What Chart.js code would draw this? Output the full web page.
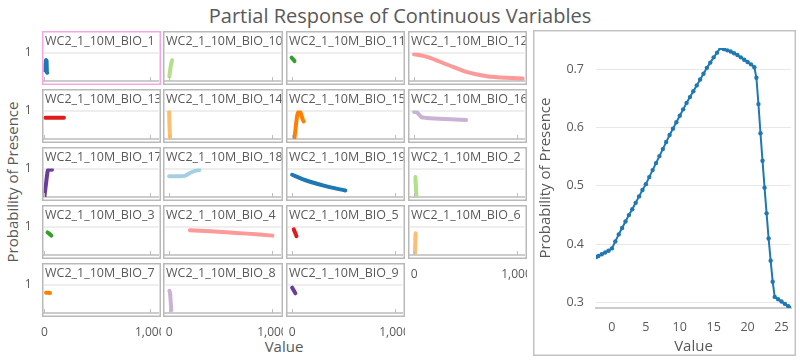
<!DOCTYPE html>
<html>
<head>
<meta charset="utf-8">
<script src="https://cdn.jsdelivr.net/npm/chart.js@4/dist/chart.umd.min.js"></script>
<style>
  body { margin: 0; background: #fff; font-family: "Open Sans", sans-serif; }
  #wrap { position: relative; width: 800px; height: 360px; overflow: hidden; }
  #wrap canvas { position: absolute; }
  .txt { position: absolute; color: #595959; white-space: nowrap; transform: translate(-50%, -50%); }
</style>
</head>
<body>
<div id="wrap">
  <div class="txt" style="left:400px; top:15px; font-size:20px;">Partial Response of Continuous Variables</div>
  <div class="txt" style="left:12px; top:182px; font-size:15px; transform: translate(-50%, -50%) rotate(-90deg);">Probability of Presence</div>
  <div class="txt" style="left:284px; top:346px; font-size:15px;">Value</div>
</div>
<script>
// Detail chart (BIO_1) values
const bigX = [-2.35, -2, -1.5, -1, -0.5, 0, 0.5, 1, 1.5, 2, 2.5, 3, 3.5, 4, 4.5, 5, 5.5, 6, 6.5, 7, 7.5, 8, 8.5, 9, 9.5, 10,
  10.5, 11, 11.5, 12, 12.5, 13, 13.5, 14, 14.5, 15, 15.5, 16, 16.5, 17, 17.5, 18, 18.5, 19, 19.5, 20, 20.5, 21,
  21.3, 21.6, 21.9, 22.2, 22.5, 22.8, 23.1, 23.4, 23.7, 24, 24.5, 25, 25.5, 26, 26.4];
const bigY = [0.378, 0.380, 0.383, 0.386, 0.389, 0.393, 0.405, 0.417, 0.428, 0.439, 0.450, 0.460, 0.471, 0.482, 0.493, 0.503,
  0.515, 0.527, 0.539, 0.551, 0.563, 0.575, 0.587, 0.598, 0.609, 0.620, 0.631, 0.642, 0.652, 0.662, 0.672, 0.682,
  0.692, 0.702, 0.711, 0.720, 0.728, 0.736, 0.734, 0.732, 0.730, 0.727, 0.724, 0.720, 0.716, 0.712, 0.708, 0.703,
  0.685, 0.640, 0.590, 0.543, 0.497, 0.453, 0.410, 0.372, 0.336, 0.310, 0.306, 0.302, 0.298, 0.294, 0.291];

// Small multiples: [value, probability]
const bio10 = [[2, 0.16], [10, 0.38], [18, 0.57], [28, 0.73]];
const bio11 = [[-5, 0.82], [8, 0.77], [23, 0.70]];
const bio12 = [[0, 0.94], [134, 0.84], [326, 0.57], [518, 0.31], [711, 0.17], [903, 0.11], [1063, 0.09]];
const bio13 = [[8, 0.75], [60, 0.75], [120, 0.75], [185, 0.75]];
const bio14 = [[0, 0.95], [1, 0.7], [4, 0.4], [8, 0.12], [10, 0.0]];
const bio15 = [[21, 0.0], [32, 0.3], [42, 0.62], [52, 0.86], [66, 0.96], [80, 0.94], [92, 0.82], [104, 0.68], [112, 0.62]];
const bio16 = [[0, 0.95], [25, 0.94], [50, 0.85], [70, 0.77], [120, 0.74], [300, 0.70], [508, 0.67]];
const bio17 = [[1, 0.03], [15, 0.45], [30, 0.88], [36, 0.95], [50, 0.96], [72, 0.96]];
const bio18 = [[0, 0.73], [80, 0.73], [150, 0.74], [200, 0.84], [250, 0.92], [292, 0.95]];
const bio19 = [[0, 0.78], [100, 0.63], [200, 0.51], [300, 0.41], [400, 0.32], [520, 0.23]];
const bio2 = [[13, 0.7], [16, 0.45], [20, 0.22], [23, 0.05]];
const bio3 = [[30, 0.79], [48, 0.74], [66, 0.68]];
const bio4 = [[200, 0.87], [400, 0.83], [550, 0.80], [750, 0.75], [1000, 0.68]];
const bio5 = [[16, 0.9], [30, 0.78], [43, 0.66]];
const bio6 = [[14, 0.76], [12, 0.5], [10, 0.25], [8, 0.0]];
const bio7 = [[16, 0.71], [35, 0.71], [53, 0.70]];
const bio8 = [[2, 0.78], [8, 0.72], [13, 0.5], [17, 0.3], [21, 0.1]];
const bio9 = [[0, 0.89], [15, 0.8], [32, 0.69]];
const bio1 = bigX.map((x, i) => [x, bigY[i]]);

const panelNames = ['WC2_1_10M_BIO_1', 'WC2_1_10M_BIO_10', 'WC2_1_10M_BIO_11', 'WC2_1_10M_BIO_12',
  'WC2_1_10M_BIO_13', 'WC2_1_10M_BIO_14', 'WC2_1_10M_BIO_15', 'WC2_1_10M_BIO_16',
  'WC2_1_10M_BIO_17', 'WC2_1_10M_BIO_18', 'WC2_1_10M_BIO_19', 'WC2_1_10M_BIO_2',
  'WC2_1_10M_BIO_3', 'WC2_1_10M_BIO_4', 'WC2_1_10M_BIO_5', 'WC2_1_10M_BIO_6',
  'WC2_1_10M_BIO_7', 'WC2_1_10M_BIO_8', 'WC2_1_10M_BIO_9'];
const panelSeries = [bio1, bio10, bio11, bio12, bio13, bio14, bio15, bio16, bio17, bio18, bio19,
  bio2, bio3, bio4, bio5, bio6, bio7, bio8, bio9];
const panelColors = ['#1f78b4', '#b2df8a', '#33a02c', '#fb9a99', '#e31a1c', '#fdbf6f', '#ff7f00', '#cab2d6', '#6a3d9a', '#a6cee3',
  '#1f78b4', '#b2df8a', '#33a02c', '#fb9a99', '#e31a1c', '#fdbf6f', '#ff7f00', '#cab2d6', '#6a3d9a'];
const smallXTicks = [0, 1000];
const smallYTicks = [1];

const FONT = '"Open Sans", sans-serif';
const TEXT = '#595959';
const wrap = document.getElementById('wrap');

// grid layout of the small panels
const boxLefts = [42, 163, 286, 408];
const boxRights = [161, 283, 405, 527];
const boxTops = [31, 89, 147, 205, 263];
const boxHeight = 54;
const xMins = [-8, -45, -45, -45];
const xMax = 1078;
const bottomRow = [4, 4, 4, 3];

// draws the frame, the inner tick marks and the name of each small panel
const panelBox = {
    id: 'panelBox',
    afterDraw(chart, args, opts) {
        const ctx = chart.ctx;
        const area = chart.chartArea;
        ctx.save();
        ctx.lineWidth = 1;
        ctx.strokeStyle = '#bdbdbd';
        smallXTicks.forEach(v => {
            const x = Math.round(chart.scales.x.getPixelForValue(v)) + 0.5;
            ctx.beginPath();
            ctx.moveTo(x, area.bottom - 4);
            ctx.lineTo(x, area.bottom);
            ctx.stroke();
        });
        ctx.lineWidth = 1.5;
        ctx.strokeStyle = opts.border;
        ctx.strokeRect(22.75, 0.75, opts.w - 1.5, boxHeight - 1.5);
        ctx.beginPath();
        ctx.rect(22, 0, opts.w - 1.5, boxHeight);
        ctx.clip();
        ctx.fillStyle = TEXT;
        ctx.font = '12.5px ' + FONT;
        ctx.fillText(opts.name, 25, 14);
        ctx.restore();
    }
};

function makeCanvas(left, top, w, h) {
    const cv = document.createElement('canvas');
    cv.width = w;
    cv.height = h;
    cv.style.left = left + 'px';
    cv.style.top = top + 'px';
    cv.style.width = w + 'px';
    cv.style.height = h + 'px';
    wrap.appendChild(cv);
    return cv;
}

panelNames.forEach((name, i) => {
    const col = i % 4, row = Math.floor(i / 4);
    const w = boxRights[col] - boxLefts[col];
    const cv = makeCanvas(boxLefts[col] - 22, boxTops[row], w + 22, boxHeight + 24);
    new Chart(cv, {
        type: 'line',
        data: {
            datasets: [{
                data: panelSeries[i].map(p => ({ x: p[0], y: p[1] })),
                borderColor: panelColors[i],
                borderWidth: 4,
                pointRadius: 0,
                tension: 0.3,
                borderCapStyle: 'round',
                borderJoinStyle: 'round'
            }]
        },
        options: {
            responsive: false,
            animation: false,
            events: [],
            layout: { padding: { top: 21.5, right: 2.5, left: 0, bottom: 0 } },
            plugins: {
                legend: { display: false },
                tooltip: { enabled: false },
                panelBox: { name: name, w: w, border: i === 0 ? '#f6a5e4' : '#b9b9b9' }
            },
            scales: {
                x: {
                    type: 'linear',
                    min: xMins[col],
                    max: xMax,
                    afterBuildTicks: s => { s.ticks = smallXTicks.map(v => ({ value: v })); },
                    afterFit: s => { s.height = 28; s.paddingLeft = 0; s.paddingRight = 0; },
                    grid: { display: false },
                    border: { color: '#cccccc', width: 2 },
                    ticks: { display: row === bottomRow[col], padding: 4, maxRotation: 0, autoSkip: false,
                             font: { size: 12, family: FONT }, color: TEXT }
                },
                y: {
                    min: 0,
                    max: 1,
                    afterBuildTicks: s => { s.ticks = smallYTicks.map(v => ({ value: v })); },
                    afterFit: s => { s.width = 23.5; s.paddingTop = 0; s.paddingBottom = 0; },
                    grid: { color: '#eeeeee', lineWidth: 2, drawTicks: false },
                    border: { display: false },
                    ticks: { display: col === 0, padding: 12, font: { size: 12, family: FONT }, color: TEXT }
                }
            }
        },
        plugins: [panelBox]
    });
});

// detail chart on the right
const bigFrame = {
    id: 'bigFrame',
    afterDraw(chart) {
        const ctx = chart.ctx;
        ctx.save();
        ctx.lineWidth = 1.5;
        ctx.strokeStyle = '#c3c3c3';
        ctx.strokeRect(0.75, 0.75, chart.width - 1.5, chart.height - 1.5);
        ctx.restore();
    }
};

const bigCanvas = makeCanvas(533, 30, 263, 326);
new Chart(bigCanvas, {
    type: 'line',
    data: {
        datasets: [{
            data: bigX.map((x, i) => ({ x: x, y: bigY[i] })),
            borderColor: '#1f78b4',
            backgroundColor: '#1f78b4',
            borderWidth: 2,
            pointRadius: 2.2,
            pointBorderWidth: 0,
            tension: 0
        }]
    },
    options: {
        responsive: false,
        animation: false,
        events: [],
        layout: { padding: { top: 18, right: 5, left: 0, bottom: 0 } },
        plugins: { legend: { display: false }, tooltip: { enabled: false } },
        scales: {
            x: {
                type: 'linear',
                min: bigX[0],
                max: bigX[bigX.length - 1],
                afterFit: s => { s.height = 48; s.paddingLeft = 0; s.paddingRight = 0; },
                grid: { display: false },
                border: { color: '#cccccc', width: 2 },
                ticks: { stepSize: 5, includeBounds: false, padding: 4, maxRotation: 0,
                         font: { size: 12.5, family: FONT }, color: TEXT },
                title: { display: true, text: 'Value', color: TEXT, font: { size: 15, family: FONT },
                         padding: { top: 0, bottom: 0 } }
            },
            y: {
                min: Math.min(...bigY),
                max: Math.max(...bigY),
                afterFit: s => { s.width = 63; s.paddingTop = 0; s.paddingBottom = 0; },
                grid: { color: '#e8e8e8', lineWidth: 1, drawTicks: false },
                border: { display: false },
                ticks: { stepSize: 0.1, includeBounds: false, padding: 12,
                         font: { size: 12.5, family: FONT }, color: TEXT },
                title: { display: true, text: 'Probability of Presence', color: TEXT,
                         font: { size: 15, family: FONT }, padding: { top: 4, bottom: 0 } }
            }
        }
    },
    plugins: [bigFrame]
});
</script>
</body>
</html>
